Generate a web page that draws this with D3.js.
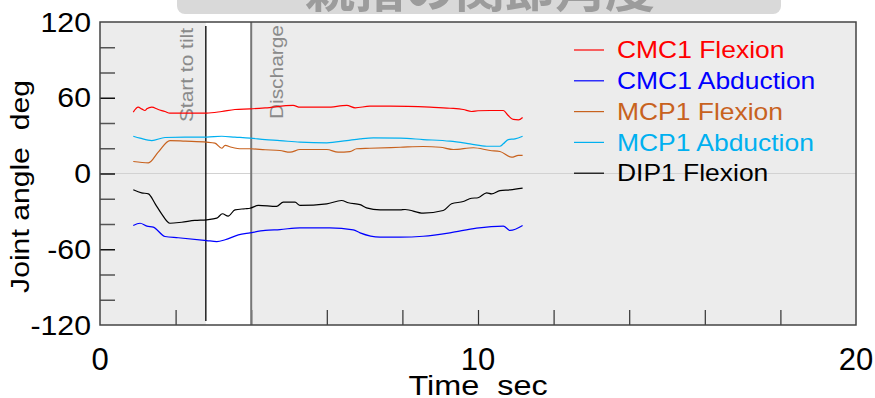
<!DOCTYPE html>
<html>
<head>
<meta charset="utf-8">
<script src="https://cdn.jsdelivr.net/npm/d3@7"></script>
<style>
  body { margin: 0; background: #fff; }
  svg { display: block; font-family: "Liberation Sans", Arial, sans-serif; }
  text { white-space: pre; }
</style>
</head>
<body>
<div id="chart"></div>
<script>
// Data: [time sec, angle deg]
const cmc1Flexion = [[0.88,48.6],[1.01,52.5],[1.10,51.2],[1.19,49.9],[1.24,51.2],[1.37,52.5],[1.54,50.7],[1.72,49.1],[1.85,47.8],[2.25,47.8],[2.82,47.8],[3.22,49.1],[3.57,50.7],[3.97,51.2],[4.37,52],[5.11,53.9],[5.29,52.5],[6.0,52.5],[6.53,53.9],[6.75,52],[7.14,53.3],[7.67,53.3],[8.73,52.5],[9.26,51.7],[9.61,50.7],[9.83,49.1],[10.0,49.7],[10.32,49.9],[10.67,49.9],[10.8,45.9],[10.93,42.8],[11.07,42.5],[11.18,44.4]];
const cmc1Abduction = [[0.88,-41.2],[1.06,-39.4],[1.24,-41.7],[1.41,-42.5],[1.72,-49.9],[2.07,-50.9],[2.82,-53.1],[3.09,-53.9],[3.31,-52.5],[3.66,-48.6],[3.97,-47],[4.37,-45.1],[4.76,-44.4],[5.29,-43],[6.08,-43],[6.7,-44.6],[6.88,-47],[7.41,-50.4],[7.94,-50.4],[8.55,-49.7],[9.26,-47],[9.96,-43.3],[10.67,-41.7],[10.85,-45.1],[11.18,-41.2]];
const mcp1Flexion = [[0.88,9.5],[1.28,8.4],[1.54,16.9],[1.85,26.1],[2.25,25.6],[2.82,24.8],[3.04,24.0],[3.22,20.0],[3.31,22.2],[3.48,20.8],[3.75,19.6],[3.97,19.6],[4.37,18.8],[4.76,18.2],[5.03,16.9],[5.29,19.0],[6.0,19.0],[6.3,16.9],[6.61,17.4],[6.79,19.6],[7.14,20.0],[7.94,20.8],[8.55,21.4],[9.0,20.8],[9.35,19.0],[9.88,20.4],[10.32,18.2],[10.58,17.4],[10.89,12.9],[11.07,14.3],[11.18,14.3]];
const mcp1Abduction = [[0.88,29.5],[1.06,28],[1.37,26.1],[1.72,28.5],[2.25,28.8],[2.82,28.8],[3.22,29.5],[3.57,28.8],[3.97,28],[4.37,26.9],[4.76,26.1],[5.29,24.8],[6.0,24.3],[6.53,26.1],[6.88,27.4],[7.23,28.2],[7.94,28],[8.55,26.9],[9.26,25.6],[9.79,23.5],[10.23,21.6],[10.58,21.6],[10.67,23.5],[10.8,26.9],[10.98,27.4],[11.18,29.5]];
const dip1Flexion = [[0.88,-12.9],[1.1,-15.3],[1.28,-16.1],[1.46,-24],[1.63,-31.9],[1.85,-39.4],[2.16,-38.6],[2.51,-37.2],[2.82,-36.7],[3.09,-35.4],[3.24,-31.9],[3.39,-33.8],[3.57,-28.8],[3.84,-27.9],[3.97,-27.5],[4.19,-25.3],[4.67,-26.1],[4.85,-22.7],[5.16,-22.7],[5.29,-25.3],[6.0,-24.0],[6.39,-21.4],[6.57,-23.2],[6.88,-24.6],[7.05,-27.2],[7.41,-28.8],[7.94,-28.8],[8.07,-28.5],[8.55,-31.4],[9.08,-29.3],[9.3,-24.0],[9.61,-22.2],[9.83,-19.6],[10.0,-19.2],[10.23,-15.3],[10.36,-16.1],[10.58,-13.5],[10.85,-12.9],[11.18,-11.6]];

const seriesNames = ['CMC1 Flexion', 'CMC1 Abduction', 'MCP1 Flexion', 'MCP1 Abduction', 'DIP1 Flexion'];
const seriesColors = ['#ff0000', '#0000ff', '#c8621e', '#00b0f0', '#000000'];
const seriesData = [cmc1Flexion, cmc1Abduction, mcp1Flexion, mcp1Abduction, dip1Flexion];

const yTickLabels = [-120, -60, 0, 60, 120];
const yMinorTicks = [-100, -80, -60, -40, -20, 0, 20, 40, 60, 80, 100];
const xTickLabels = [0, 10, 20];
const xMinorTicks = [2, 4, 6, 8, 10, 12, 14, 16, 18];

const events = [{t: 2.8, label: 'Start to tilt'}, {t: 4.0, label: 'Discharge'}];
const title = '親指の関節角度';

// Dimensions
const W = 875, H = 398;
const margin = {top: 22, right: 19, bottom: 73, left: 100};
const width = W - margin.left - margin.right,
  height = H - margin.top - margin.bottom;

const svg = d3.select('#chart')
  .append('svg')
  .attr('width', W)
  .attr('height', H);

const g = svg.append('g')
  .attr('transform', `translate(${margin.left}, ${margin.top})`);

// text stretched a bit wider, like the original renderer
const addText = function(parent, x, y, str, opts) {
  const holder = parent.append('g')
    .attr('transform', `translate(${x}, ${y}) rotate(${opts.rotate || 0}) scale(${opts.sx || 1}, 1)`);
  return holder.append('text')
    .attr('text-anchor', opts.anchor || 'start')
    .attr('dy', opts.dy || 0)
    .attr('font-size', opts.size)
    .attr('fill', opts.fill || '#000')
    .text(str);
}

const xScale = d3.scaleLinear().domain([0, 20]).range([0, width]);
const yScale = d3.scaleLinear().domain([-120, 120]).range([height, 0]);

// Plot background
g.append('rect')
  .attr('width', width)
  .attr('height', height)
  .attr('fill', '#ececec');

// White band between the two events
g.append('rect')
  .attr('x', xScale(events[0].t))
  .attr('y', 0)
  .attr('width', xScale(events[1].t) - xScale(events[0].t))
  .attr('height', height)
  .attr('fill', '#ffffff');

// Zero line
g.append('line')
  .attr('x1', 0).attr('x2', width)
  .attr('y1', yScale(0)).attr('y2', yScale(0))
  .attr('stroke', '#d2d2d2')
  .attr('stroke-width', 1);

// Inner ticks
g.append('g')
  .call(d3.axisRight(yScale).tickValues(yMinorTicks).tickSize(15).tickFormat(''))
  .call(a => a.select('.domain').remove())
  .selectAll('line')
  .attr('stroke', d => d % 60 === 0 ? '#111' : '#555')
  .attr('stroke-width', 1.5);

g.append('g')
  .attr('transform', `translate(0, ${height})`)
  .call(d3.axisTop(xScale).tickValues(xMinorTicks).tickSize(15).tickFormat(''))
  .call(a => a.select('.domain').remove())
  .selectAll('line')
  .attr('stroke', '#333')
  .attr('stroke-width', 1.2);

// Event lines and labels
g.append('line')
  .attr('x1', xScale(events[0].t)).attr('x2', xScale(events[0].t))
  .attr('y1', 4).attr('y2', height - 4)
  .attr('stroke', '#000')
  .attr('stroke-width', 1.3);

g.append('line')
  .attr('x1', xScale(events[1].t)).attr('x2', xScale(events[1].t))
  .attr('y1', 0).attr('y2', height)
  .attr('stroke', '#777')
  .attr('stroke-width', 2);

addText(g, xScale(events[0].t) - 13, 6, events[0].label,
  {rotate: -90, sx: 1.1, anchor: 'end', size: 19, fill: '#8a8a8a'});
addText(g, xScale(events[1].t) + 32, 3, events[1].label,
  {rotate: -90, sx: 1.1, anchor: 'end', size: 19, fill: '#8a8a8a'});

// Lines
const line = d3.line()
  .x(d => xScale(d[0]))
  .y(d => yScale(d[1]))
  .curve(d3.curveMonotoneX);

g.selectAll('.series')
  .data(seriesData)
  .enter()
  .append('path')
  .attr('class', 'series')
  .attr('d', d => line(d))
  .attr('fill', 'none')
  .attr('stroke', (d, i) => seriesColors[i])
  .attr('stroke-width', 1.2);

// Legend
const legend = g.append('g')
  .attr('transform', `translate(${474}, ${28})`);

seriesNames.forEach((name, i) => {
  const row = legend.append('g').attr('transform', `translate(0, ${i * 30.8})`);
  row.append('line')
    .attr('x1', 0).attr('x2', 30)
    .attr('stroke', seriesColors[i])
    .attr('stroke-width', 1.2);
  addText(row, 43, 0, name, {sx: 1.15, dy: '0.36em', size: 23, fill: seriesColors[i]});
});

// Frame
g.append('rect')
  .attr('width', width)
  .attr('height', height)
  .attr('fill', 'none')
  .attr('stroke', '#444')
  .attr('stroke-width', 1.5);

// Tick labels
yTickLabels.forEach(d => {
  addText(g, -9, yScale(d), d, {sx: 1.12, anchor: 'end', dy: '0.36em', size: 27});
});

xTickLabels.forEach(d => {
  addText(g, xScale(d), height + 45, d, {sx: 1.0, anchor: 'middle', size: 31});
});

// Axis titles
addText(g, width / 2, height + 70, 'Time  sec', {sx: 1.2, anchor: 'middle', size: 27});
addText(g, -71, height / 2 + 13, 'Joint angle  deg', {rotate: -90, sx: 1.16, anchor: 'middle', size: 26});

// Title box, cut off at the top
svg.append('rect')
  .attr('x', 177).attr('y', -30)
  .attr('width', 604).attr('height', 44)
  .attr('rx', 8)
  .attr('fill', '#d9d9d9');

svg.append('text')
  .attr('x', 480)
  .attr('y', 7)
  .attr('text-anchor', 'middle')
  .attr('font-family', '"Noto Sans CJK JP", sans-serif')
  .attr('font-weight', 'bold')
  .attr('font-size', 50)
  .attr('fill', '#9c9c9c')
  .text(title);
</script>
</body>
</html>
